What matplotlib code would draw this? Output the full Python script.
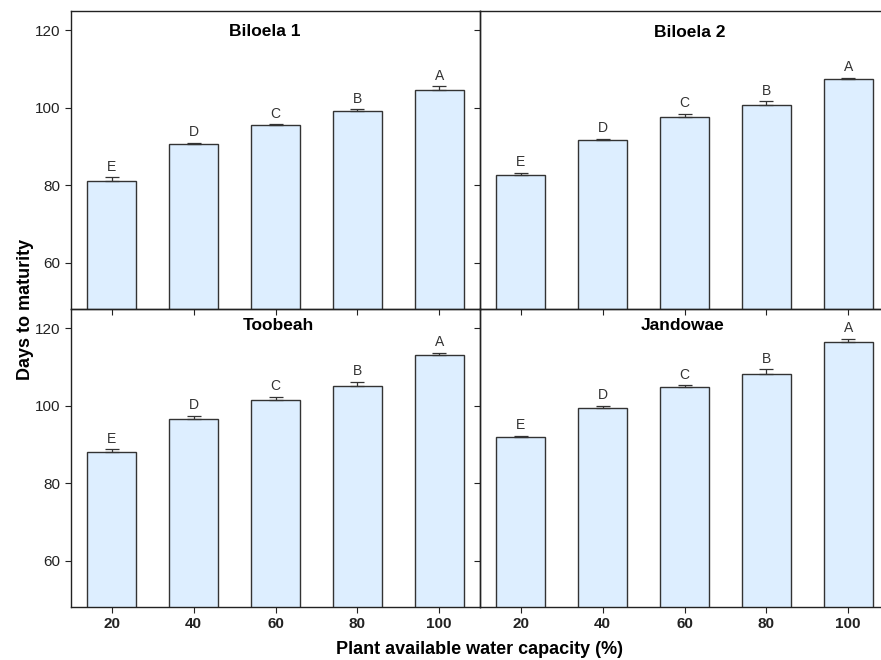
import matplotlib.pyplot as plt
import numpy as np

plt.rcParams['font.family'] = ['Liberation Sans', 'DejaVu Sans']

# Plant available water capacity (%)
pawc = ["20", "40", "60", "80", "100"]
sites = ["Biloela 1", "Biloela 2", "Toobeah", "Jandowae"]

# Mean days to maturity and standard errors per site
biloela1_mean = [81.2, 90.6, 95.5, 99.2, 104.5]
biloela1_se = [0.8, 0.35, 0.3, 0.35, 1.1]
biloela2_mean = [82.7, 91.7, 97.6, 100.8, 107.4]
biloela2_se = [0.5, 0.35, 0.8, 0.9, 0.4]
toobeah_mean = [88.0, 96.6, 101.5, 105.2, 113.0]
toobeah_se = [0.7, 0.85, 0.85, 0.95, 0.7]
jandowae_mean = [91.8, 99.4, 104.8, 108.3, 116.5]
jandowae_se = [0.4, 0.6, 0.5, 1.1, 0.85]

# Significance letters (same for every site)
letters = ["E", "D", "C", "B", "A"]

means = [biloela1_mean, biloela2_mean, toobeah_mean, jandowae_mean]
errors = [biloela1_se, biloela2_se, toobeah_se, jandowae_se]

fig = plt.figure(figsize=(8.81, 6.6), dpi=100)

left0, w = 71 / 881, 409 / 881
h = 298 / 660
positions = [
    (left0, 1 - 309 / 660, w, h),
    (left0 + w, 1 - 309 / 660, w, h),
    (left0, 1 - 607 / 660, w, h),
    (left0 + w, 1 - 607 / 660, w, h),
]
# panel title anchor (axes fraction)
title_xy = [(0.473, 0.931), (0.512, 0.929), (0.506, 0.943), (0.496, 0.943)]

x = np.arange(len(pawc))
for i, (name, m, se, pos) in enumerate(zip(sites, means, errors, positions)):
    ax = fig.add_axes(pos)
    ax.patch.set_visible(False)
    ax.bar(x, m, width=0.6, color="#ddeeff", edgecolor="#333333", linewidth=1.0, zorder=2)
    ax.errorbar(x, m, yerr=[np.zeros(len(se)), se], fmt="none", ecolor="#333333",
                elinewidth=0.9, capsize=5, capthick=0.9, zorder=3)
    for xi, mi, si, lab in zip(x, m, se, letters):
        ax.text(xi, mi + si + 0.9, lab, ha="center", va="bottom", fontsize=10, color="#333333")

    ax.set_xlim(-0.5, 4.5)
    ax.set_ylim(48, 125)
    ax.set_yticks([60, 80, 100, 120])
    ax.set_xticks(x)
    ax.tick_params(direction="out", length=4, width=0.8, colors="#222222")

    tx, ty = title_xy[i]
    ax.text(tx, ty, name, transform=ax.transAxes, ha="center", va="center",
            fontsize=12.5, fontweight="bold")

    if i % 2 == 0:
        ax.set_yticklabels(["60", "80", "100", "120"], fontsize=11)
    else:
        ax.set_yticklabels([])
    if i >= 2:
        ax.set_xticklabels(pawc, fontsize=11, fontweight="bold")
    else:
        ax.set_xticklabels([])

    for sp in ax.spines.values():
        sp.set_linewidth(1.0)
        sp.set_color("#222222")

fig.text(25 / 881, 1 - 309 / 660, "Days to maturity", rotation=90, ha="center", va="center",
         fontsize=13, fontweight="bold")
fig.text(480 / 881, 1 - 650 / 660, "Plant available water capacity (%)", ha="center", va="center",
         fontsize=13, fontweight="bold")

fig.savefig("out.png", dpi=100)
